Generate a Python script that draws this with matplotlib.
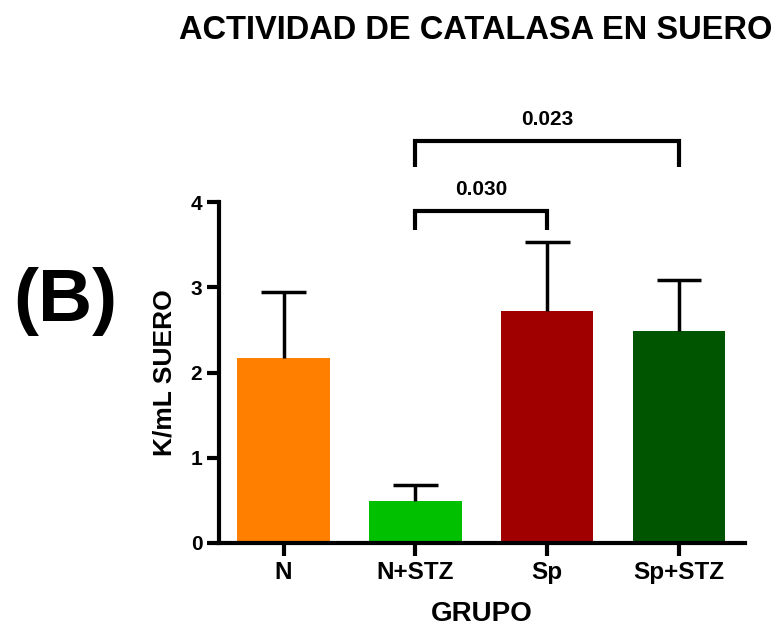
import matplotlib
matplotlib.use("Agg")
import matplotlib.pyplot as plt

plt.rcParams['font.family'] = ['Liberation Sans', 'DejaVu Sans']
plt.rcParams['font.weight'] = 'bold'

groups = ["N", "N+STZ", "Sp", "Sp+STZ"]
means = [2.17, 0.49, 2.72, 2.49]
errors = [0.77, 0.19, 0.81, 0.59]
colors = ["#FF7F00", "#00C000", "#A00000", "#005500"]

# significance comparisons: (group a, group b, p-value, bracket height, leg drop)
comparisons = [
    (1, 2, "0.030", 3.90, 0.23),
    (1, 3, "0.023", 4.72, 0.31),
]

fig = plt.figure(figsize=(7.78, 6.26), dpi=100)
ax = fig.add_axes([0.2815, 0.1326, 0.676, 0.5447])

x = list(range(len(groups)))
ax.bar(x, means, width=0.7, color=colors, zorder=2)

# upper-only error bars (SD)
cap_half = 0.17
for xi, m, e in zip(x, means, errors):
    ax.plot([xi, xi], [m, m + e], color='black', lw=2.5, zorder=3,
            solid_capstyle='butt')
    ax.plot([xi - cap_half, xi + cap_half], [m + e, m + e], color='black',
            lw=2.5, zorder=3, solid_capstyle='butt')

ax.set_xlim(-0.49, 3.5)
ax.set_ylim(0, 4)
ax.set_yticks([0, 1, 2, 3, 4])
ax.set_xticks(x)
ax.set_xticklabels(groups)

for s in ['top', 'right']:
    ax.spines[s].set_visible(False)
for s in ['left', 'bottom']:
    ax.spines[s].set_linewidth(3)
ax.tick_params(axis='both', width=3, length=9, pad=3)
ax.tick_params(axis='y', labelsize=15)
ax.tick_params(axis='x', labelsize=17.5, pad=4)
for lab in ax.get_xticklabels() + ax.get_yticklabels():
    lab.set_fontweight('bold')

ax.set_xlabel("GRUPO", fontsize=20, fontweight='bold', labelpad=12)
ax.set_ylabel("K/mL SUERO", fontsize=19, fontweight='bold', labelpad=10)

for a, b, p, h, d in comparisons:
    ax.plot([a, a, b, b], [h - d, h, h, h - d], color='black', lw=3,
            clip_on=False, solid_capstyle='butt', solid_joinstyle='miter')
    ax.text((a + b) / 2, h + 0.14, p, ha='center', va='bottom',
            fontsize=15, fontweight='bold', clip_on=False)

fig.text(0.611, 0.951, "ACTIVIDAD DE CATALASA EN SUERO", ha='center', va='center',
         fontsize=23.5, fontweight='bold')
fig.text(0.084, 0.518, "(B)", ha='center', va='center', fontsize=54, fontweight='bold')

fig.savefig("out.png", dpi=100)
